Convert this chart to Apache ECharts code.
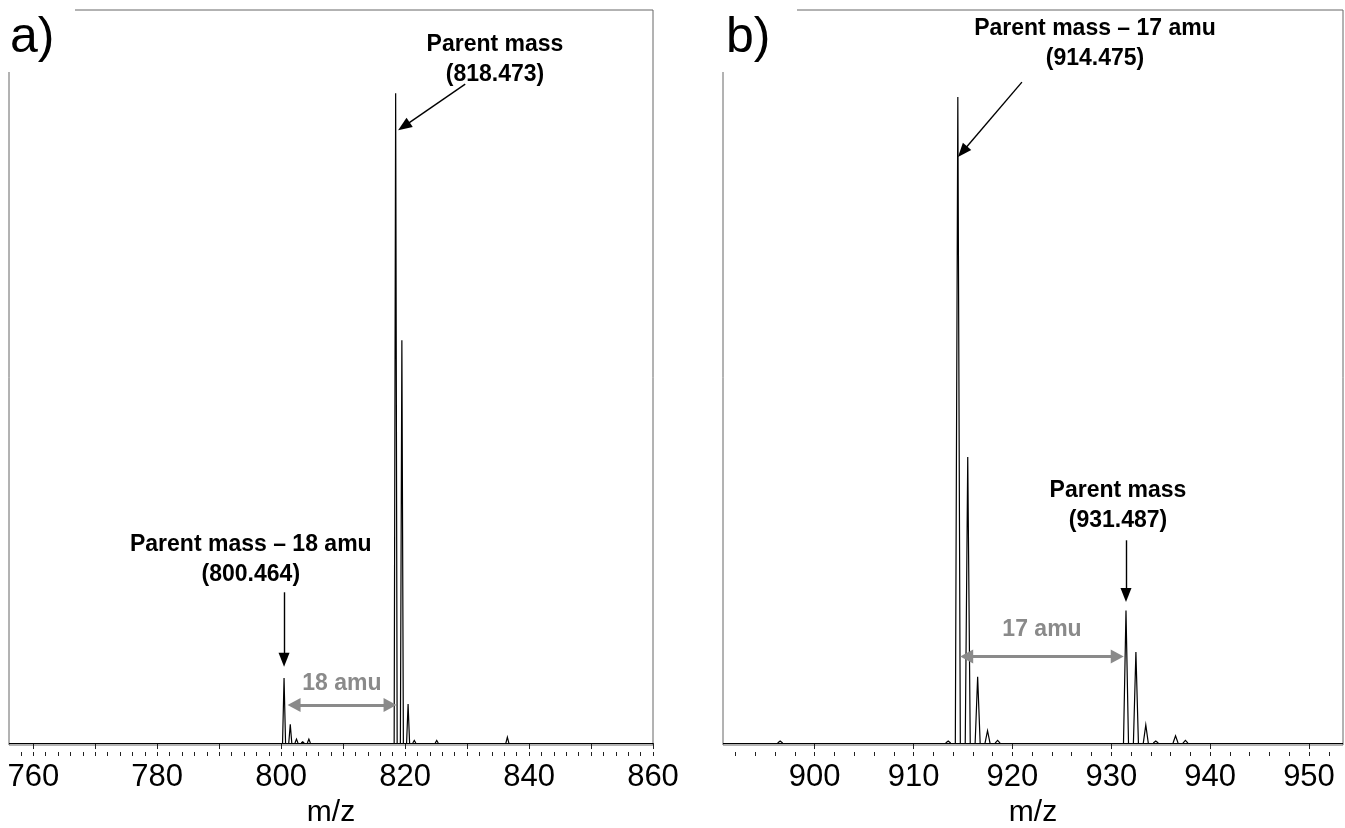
<!DOCTYPE html>
<html><head><meta charset="utf-8">
<script src="https://cdn.jsdelivr.net/npm/echarts@6/dist/echarts.min.js"></script>
<style>html,body{margin:0;padding:0;background:#fff}#c{width:1345px;height:828px}</style>
</head><body><div id="c"></div>
<script>
// ---- data: peaks (m/z, relative intensity) ----
const mzA  = [800.464, 801.467, 802.47, 803.47, 804.47, 818.473, 819.476, 820.479, 821.48, 825.1, 836.5];
const intA = [10.0,    2.9,     0.6,    0.2,    0.6,    100,     62.0,    6.0,     0.4,    0.4,   0.9];
const mzB  = [896.5, 913.5, 914.475, 915.478, 916.48, 917.48, 918.5, 931.487, 932.49, 933.49, 934.5, 936.5, 937.5];
const intB = [0.3,   0.3,   99.4,    44.0,    10.2,   1.9,    0.4,   20.4,    14.0,   2.8,    0.3,   1.1,   0.4];
// ---- axis ticks / labels ----
const labelsA = [760, 780, 800, 820, 840, 860];
const majorA  = [760, 770, 780, 790, 800, 810, 820, 830, 840, 850, 860];
const minorA  = [758, 760, 762, 764, 766, 768, 770, 772, 774, 776, 778, 780, 782, 784, 786, 788, 790, 792, 794, 796, 798, 800, 802, 804, 806, 808, 810, 812, 814, 816, 818, 820, 822, 824, 826, 828, 830, 832, 834, 836, 838, 840, 842, 844, 846, 848, 850, 852, 854, 856, 858, 860];
const labelsB = [900, 910, 920, 930, 940, 950];
const majorB  = [900, 910, 920, 930, 940, 950];
const minorB  = [892, 894, 896, 898, 900, 902, 904, 906, 908, 910, 912, 914, 916, 918, 920, 922, 924, 926, 928, 930, 932, 934, 936, 938, 940, 942, 944, 946, 948, 950, 952];
// ---- annotation texts ----
const textA = ['Parent mass\n(818.473)', 'Parent mass \u2013 18 amu\n(800.464)', '18 amu'];
const textB = ['Parent mass \u2013 17 amu\n(914.475)', 'Parent mass\n(931.487)', '17 amu'];
const panelLabels = ['a)', 'b)'];
const axisName = 'm/z';

const FONT = "'Liberation Sans', Arial, Helvetica, sans-serif";
const GRAY = '#8a8a8a';

function peakRenderer(halfW) {
  return function (params, api) {
    const m = api.value(0), h = api.value(1);
    const b = api.coord([m, 0]);
    const t = api.coord([m, h]);
    return {
      type: 'polyline',
      shape: { points: [[b[0] - halfW, b[1]], [t[0], t[1]], [b[0] + halfW, b[1]]] },
      style: { stroke: '#000', lineWidth: 1.2, fill: null }
    };
  };
}

function arrow(p1, p2, color, w, size) {
  return [
    { coord: p1, symbol: 'none', lineStyle: { color: color, width: w, type: 'solid' } },
    { coord: p2, symbol: 'triangle', symbolSize: size }
  ];
}
function dblArrow(p1, p2, color, w, size) {
  return [
    { coord: p1, symbol: 'triangle', symbolSize: size, lineStyle: { color: color, width: w, type: 'solid' } },
    { coord: p2, symbol: 'triangle', symbolSize: size }
  ];
}
function txt(coord, text, color) {
  return {
    coord: coord, value: text,
    label: { show: true, position: 'inside', formatter: text, color: color, fontSize: 23, fontWeight: 'bold', fontFamily: FONT, lineHeight: 30, align: 'center', verticalAlign: 'middle' }
  };
}

const xAxisCommon = {
  type: 'value', position: 'bottom', offset: 7,
  axisLine: { show: false }, splitLine: { show: false }
};
const nameStyle = { fontSize: 30, fontFamily: FONT, color: '#000' };
const labStyle = { fontSize: 31, fontFamily: FONT, color: '#000', margin: 10, hideOverlap: false };

const option = {
  backgroundColor: '#fff',
  animation: false,
  grid: [
    { left: 9, top: 10, width: 644, height: 735, show: true, borderColor: '#666', borderWidth: 1, containLabel: false, outerBoundsMode: 'none' },
    { left: 723, top: 10, width: 620, height: 735, show: true, borderColor: '#666', borderWidth: 1, containLabel: false, outerBoundsMode: 'none' }
  ],
  xAxis: [
    Object.assign({}, xAxisCommon, {
      gridIndex: 0, min: 756.08, max: 860,
      name: axisName, nameLocation: 'middle', nameGap: 46, nameTextStyle: nameStyle,
      axisTick: { show: true, length: 6, customValues: majorA, lineStyle: { color: '#222', width: 1 } },
      axisLabel: Object.assign({ show: true, customValues: labelsA }, labStyle)
    }),
    Object.assign({}, xAxisCommon, {
      gridIndex: 0, min: 756.08, max: 860,
      axisTick: { show: true, length: 4, customValues: minorA, lineStyle: { color: '#222', width: 1 } },
      axisLabel: { show: false }
    }),
    Object.assign({}, xAxisCommon, {
      gridIndex: 1, min: 890.72, max: 953.44,
      name: axisName, nameLocation: 'middle', nameGap: 46, nameTextStyle: nameStyle,
      axisTick: { show: true, length: 6, customValues: majorB, lineStyle: { color: '#222', width: 1 } },
      axisLabel: Object.assign({ show: true, customValues: labelsB }, labStyle)
    }),
    Object.assign({}, xAxisCommon, {
      gridIndex: 1, min: 890.72, max: 953.44,
      axisTick: { show: true, length: 4, customValues: minorB, lineStyle: { color: '#222', width: 1 } },
      axisLabel: { show: false }
    })
  ],
  yAxis: [
    { type: 'value', gridIndex: 0, min: -0.3, max: 112.8, show: false },
    { type: 'value', gridIndex: 1, min: -0.3, max: 112.8, show: false }
  ],
  series: [
    {
      type: 'custom', name: 'a', xAxisIndex: 0, yAxisIndex: 0,
      renderItem: peakRenderer(1.5),
      encode: { x: 0, y: 1 },
      data: mzA.map((m, i) => [m, intA[i]]),
      silent: true,
      markLine: {
        silent: true, symbol: ['none', 'none'], label: { show: false },
        lineStyle: { color: '#000', width: 1, type: 'solid' },
        data: [
          [{ coord: [756.08, 0], symbol: 'none' }, { coord: [860, 0], symbol: 'none' }],
          arrow([829.7, 101.4], [819.8, 94.9], '#000', 1.4, [11, 14]),
          arrow([mzA[0], 23.2], [mzA[0], 12.8], '#000', 1.4, [11, 14]),
          dblArrow([802.08, 5.85], [817.57, 5.85], GRAY, 3, [14, 13])
        ]
      },
      markPoint: {
        silent: true, symbol: 'circle', symbolSize: 0,
        data: [
          txt([834.5, 105.1], textA[0], '#000'),
          txt([795.1, 28.2], textA[1], '#000'),
          txt([809.8, 9.2], textA[2], GRAY)
        ]
      }
    },
    {
      type: 'custom', name: 'b', xAxisIndex: 2, yAxisIndex: 1,
      renderItem: peakRenderer(2.5),
      encode: { x: 0, y: 1 },
      data: mzB.map((m, i) => [m, intB[i]]),
      silent: true,
      markLine: {
        silent: true, symbol: ['none', 'none'], label: { show: false },
        lineStyle: { color: '#000', width: 1, type: 'solid' },
        data: [
          [{ coord: [890.72, 0], symbol: 'none' }, { coord: [953.44, 0], symbol: 'none' }],
          arrow([920.96, 101.7], [914.95, 91.0], '#000', 1.4, [11, 14]),
          arrow([mzB[7], 31.2], [mzB[7], 22.8], '#000', 1.4, [11, 14]),
          dblArrow([915.37, 13.3], [930.60, 13.3], GRAY, 3, [14, 13])
        ]
      },
      markPoint: {
        silent: true, symbol: 'circle', symbolSize: 0,
        data: [
          txt([928.35, 107.6], textB[0], '#000'),
          txt([930.68, 36.5], textB[1], '#000'),
          txt([922.99, 17.4], textB[2], GRAY)
        ]
      }
    }
  ],
  graphic: [
    { type: 'rect', left: 0, top: 0, shape: { width: 75, height: 72 }, style: { fill: '#fff' }, z: 100, silent: true },
    { type: 'rect', left: 715, top: 0, shape: { width: 82, height: 72 }, style: { fill: '#fff' }, z: 100, silent: true },
    { type: 'text', left: 10, top: 13, style: { text: panelLabels[0], fontSize: 50, fontFamily: FONT, fill: '#000' }, z: 101, silent: true },
    { type: 'text', left: 726, top: 13, style: { text: panelLabels[1], fontSize: 50, fontFamily: FONT, fill: '#000' }, z: 101, silent: true }
  ]
};

const chart = echarts.init(document.getElementById('c'), null, { renderer: 'canvas' });
chart.setOption(option);
</script>
</body></html>
